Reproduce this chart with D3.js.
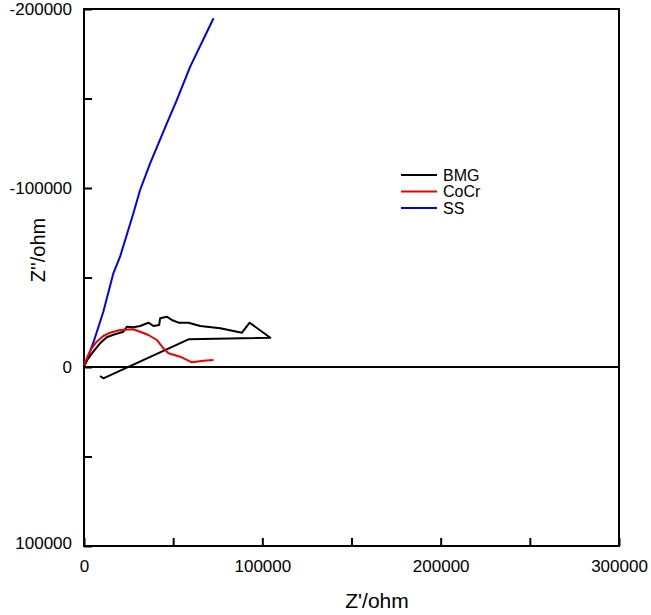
<!DOCTYPE html>
<html><head><meta charset="utf-8">
<script src="https://cdn.jsdelivr.net/npm/d3@7"></script>
<style>body{margin:0;background:#fff}svg{display:block}text{font-family:"Liberation Sans",Arial,sans-serif;fill:#000}</style>
</head><body><svg id="c" width="651" height="615"></svg>
<script>
const seriesNames = ["BMG", "CoCr", "SS"];
const seriesColors = ["#000000", "#ee0000", "#0000ee"];
const xTicks = [0, 50000, 100000, 150000, 200000, 250000, 300000];
const xTickLabels = ["0", "", "100000", "", "200000", "", "300000"];
const yTicks = [-200000, -150000, -100000, -50000, 0, 50000, 100000];
const yTickLabels = ["-200000", "", "-100000", "", "0", "", "100000"];

const bmgRe = [0,2416,5225,8989,12753,16461,22079,23989,27697,31461,36124,38933,42135,42697,46461,49270,52978,58596,65169,76405,88596,92865,104495,58596,10843,8989];
const bmgIm = [-500,-4861,-8548,-13241,-16593,-18046,-19722,-22516,-22181,-22907,-24750,-22907,-23465,-27208,-28102,-26259,-24750,-24750,-22907,-21622,-19163,-24750,-16370,-15476,6313,5028];

const cocrRe = [0,2416,4326,7135,10843,14607,20225,27697,31461,36124,40843,44551,47360,53933,60506,67023,72643];
const cocrIm = [-1117,-6704,-10448,-14135,-17320,-19163,-20672,-21063,-19722,-17878,-15085,-10448,-7654,-5755,-2626,-3520,-3911];

const ssRe = [500,5225,10843,16461,20225,27697,31461,37079,46461,52079,59551,72643];
const ssIm = [-1000,-13576,-30896,-52350,-61625,-85872,-98890,-113807,-136155,-149173,-167778,-194819];

const L=84,R=619,T=9,B=546;
const svg=d3.select("#c");
const x=d3.scaleLinear().domain([0,300000]).range([L,R]);
const y=d3.scaleLinear().domain([-200000,100000]).range([T,B]);

svg.append("rect").attr("x",L).attr("y",T).attr("width",R-L).attr("height",B-T)
  .attr("fill","none").attr("stroke","#000").attr("stroke-width",2);
svg.append("line").attr("x1",L).attr("x2",R).attr("y1",y(0)).attr("y2",y(0))
  .attr("stroke","#000").attr("stroke-width",2);

const ya=d3.axisLeft(y).tickValues(yTicks).tickSize(-8).tickPadding(12)
  .tickFormat((d,i)=>yTickLabels[i]);
const gy=svg.append("g").attr("transform",`translate(${L},0)`).call(ya);
const xa=d3.axisBottom(x).tickValues(xTicks).tickSize(-8).tickPadding(14)
  .tickFormat((d,i)=>xTickLabels[i]);
const gx=svg.append("g").attr("transform",`translate(0,${B})`).call(xa);
[gx,gy].forEach(g=>{g.select(".domain").remove();
  g.selectAll(".tick line").attr("stroke","#000").attr("stroke-width",2);
  g.selectAll("text").attr("font-size",17).attr("font-family","Liberation Sans, Arial, sans-serif").attr("fill","#000");});
gy.selectAll(".tick").filter(d=>d===100000).select("text").attr("dy","0.15em");

const data=[
  {re:ssRe,im:ssIm,c:seriesColors[2]},
  {re:bmgRe,im:bmgIm,c:seriesColors[0]},
  {re:cocrRe,im:cocrIm,c:seriesColors[1]}];
const line=d3.line().x(d=>x(d[0])).y(d=>y(d[1]));
data.forEach(s=>{
  svg.append("path").datum(s.re.map((v,i)=>[v,s.im[i]]))
   .attr("d",line).attr("fill","none").attr("stroke",s.c).attr("stroke-width",2)
   .attr("stroke-linejoin","round");
});

const lg=svg.append("g");
seriesNames.forEach((n,i)=>{
  const yy=175+i*16.5;
  lg.append("line").attr("x1",401).attr("x2",437).attr("y1",yy).attr("y2",yy)
    .attr("stroke",seriesColors[i]).attr("stroke-width",2);
  lg.append("text").attr("x",443).attr("y",yy).attr("dy","0.35em").attr("font-size",16).text(n);
});

svg.append("text").attr("x",377).attr("y",608).attr("text-anchor","middle").attr("font-size",21).text("Z'/ohm");
svg.append("text").attr("transform","translate(45,250) rotate(-90)").attr("text-anchor","middle").attr("font-size",20).text("Z''/ohm");
</script></body></html>
